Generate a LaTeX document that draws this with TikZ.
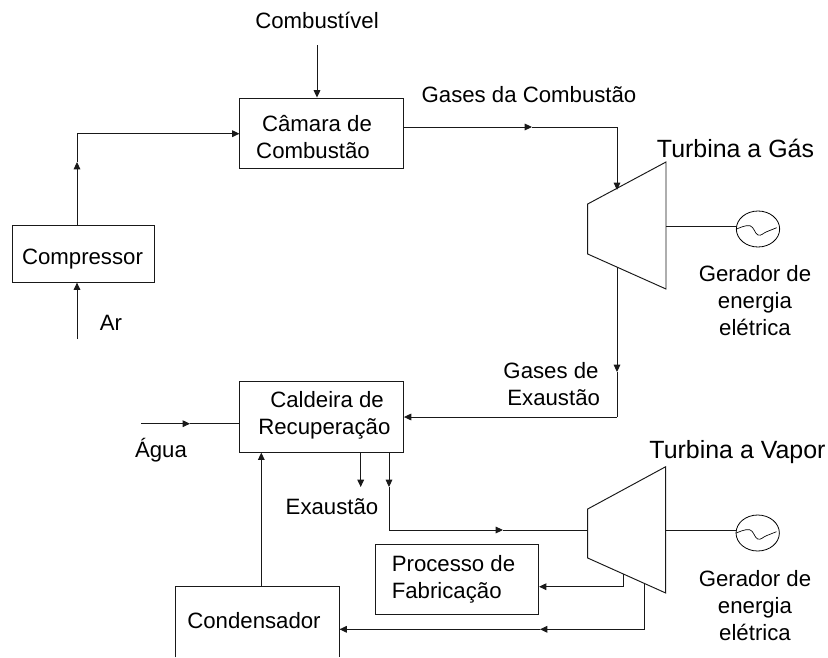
\documentclass[tikz,border=0pt]{standalone}
\usepackage{fontspec}
\setmainfont{Liberation Sans}
\usetikzlibrary{arrows.meta,shapes.geometric}
\tikzset{
  base/.style={line width=0.72pt,draw=black!90},
  arr/.style={base,-{Triangle[length=5.5pt,width=5pt]}},
  boxn/.style={base,rectangle,inner sep=0pt},
  lab/.style={inner sep=0pt,align=center,font=\fontsize{16.65}{20.2}\selectfont},
  lableft/.style={lab,align=left},
  big/.style={inner sep=0pt,font=\fontsize{18.7}{22}\selectfont},
  gen/.style={draw=black,ellipse,minimum width=32.5pt,minimum height=27pt,inner sep=0pt,line width=0.6pt},
}
\begin{document}
\begin{tikzpicture}[x=0.75pt,y=-0.75pt]
\useasboundingbox (0,0) rectangle (828,657);
% boxes
\node[boxn,minimum width=106.9pt,minimum height=42.2pt] (comp) at (83.7,254) {};
\node[boxn,minimum width=122.6pt,minimum height=53.2pt] (cam) at (321.7,133.5) {};
\node[boxn,minimum width=122.6pt,minimum height=52.7pt] (cal) at (321.7,417) {};
\node[boxn,minimum width=122.6pt,minimum height=53.2pt] (proc) at (456.8,579.5) {};
\node[boxn,draw=none,minimum width=122.6pt,minimum height=52.7pt] (cond) at (257.3,621.85) {};
\draw[base] (cond.south west) -- (cond.north west) -- (cond.north east) -- (cond.south east);
% box texts
\node[lab] (compt) at (82.5,259) {Compressor};
\node[lab] (camt) at (315,137) {\hspace*{3pt}Câmara de\\Combustão\hspace*{3pt}};
\node[lab] (calt) at (325.7,415.5) {\hspace*{2pt}Caldeira de\\Recuperação\hspace*{2pt}};
\node[lableft] (proct) at (453.5,579) {Processo de\\Fabricação};
\node[lab] (condt) at (254,620.3) {Condensador};
% turbines
\coordinate (g1) at (587.7,204); \coordinate (g2) at (666,162);
\coordinate (g3) at (666,289); \coordinate (g4) at (587.7,254);
\draw[base] (g1) -- (g2) -- (g3) -- (g4) -- cycle;
\coordinate (v1) at (587.7,509); \coordinate (v2) at (665.7,466.7);
\coordinate (v3) at (665.7,593); \coordinate (v4) at (587.7,558);
\draw[base] (v1) -- (v2) -- (v3) -- (v4) -- cycle;
% generators
\node[gen] (gen1) at (758,229) {};
\node[gen] (gen2) at (757.7,533) {};
\foreach \g in {gen1,gen2}{
  \begin{scope}[shift={(\g.center)}]
  \draw[line width=0.5pt] plot[smooth,tension=0.7] coordinates {(-21.3,0) (-8,-3.3) (0,6) (8.7,2.7) (18.7,-1.3)};
  \end{scope}
}
% free ends
\coordinate (airin) at (77,339);
\coordinate (airmid) at (77,162);
\coordinate (aircorner) at (77,133.7);
\coordinate (airmid2) at (200,133.7);
\coordinate (fuel) at (317,45);
\coordinate (gasstart) at (403,127);
\coordinate (gasmid) at (532,127);
\coordinate (gascorner) at (617,127);
\coordinate (gasin) at (617,190);
\coordinate (exout) at (617,267);
\coordinate (exmid) at (617,372);
\coordinate (excorner) at (617,417);
\coordinate (water) at (141,423.7);
\coordinate (watermid) at (190,423.7);
\coordinate (cndup) at (261.3,500);
\coordinate (stmcorner) at (389,530);
\coordinate (stmmid1) at (389,487);
\coordinate (stmmid2) at (503,530);
\coordinate (exh) at (360.7,487);
\coordinate (x1) at (623.3,573.5);
\coordinate (x1c) at (623.3,586.7);
\coordinate (x2) at (644.3,583);
\coordinate (x2c) at (644.3,629.3);
\coordinate (x2m) at (540,629.3);
% connectors
\draw[arr] (airin) -- (comp.south -| airin);
\draw[arr] (comp.north -| airin) -- (airmid);
\draw[base] (airmid) -- (aircorner) -- (airmid2);
\draw[arr] (airmid2) -- (cam.west |- airmid2);
\draw[arr] (fuel) -- (cam.north -| fuel);
\draw[arr] (cam.east |- gasstart) -- (gasmid);
\draw[base] (gasmid) -- (gascorner);
\draw[arr] (gascorner) -- (gasin);
\draw[arr] (exout) -- (exmid);
\draw[base] (exmid) -- (excorner);
\draw[arr] (excorner) -- (cal.east |- excorner);
\draw[arr] (water) -- (watermid);
\draw[base] (watermid) -- (cal.west |- watermid);
\draw[arr] (cond.north -| cndup) -- (cal.south -| cndup);
\draw[arr] (cal.south -| exh) -- (exh);
\draw[arr] (cal.south -| stmcorner) -- (stmmid1);
\draw[base] (stmmid1) -- (stmcorner);
\draw[arr] (stmcorner) -- (stmmid2);
\draw[base] (stmmid2) -- (v1 |- stmmid2);
\draw[base] (g2 |- gen1.west) ++(0,-3) -- ++(71,0);
\draw[base] (v2 |- gen2.west) ++(0,-3) -- ++(71,0);
\draw[arr] (x1) -- (x1c) -- (proc.east |- x1c);
\draw[arr] (x2) -- (x2c) -- (x2m);
\draw[arr] (x2m) -- (cond.east |- x2m);
% labels
\node[lab] (tcomb) at (317,20) {Combustível};
\node[lab] (tgc) at (529,95) {Gases da Combustão};
\node[lab] (tar) at (111,323) {Ar};
\node[lab] (tge) at (551,384) {Gases de\\\hspace*{4pt}Exaustão};
\node[lab] (tag) at (161,450.5) {Água};
\node[lab] (tex) at (332,507) {Exaustão};
\node[big] (ttg) at (735.5,148) {Turbina a Gás};
\node[big] (ttv) at (737.5,452) {Turbina a Vapor};
\node[lab] (gg1) at (755,300.5) {Gerador de\\energia\\elétrica};
\node[lab] (gg2) at (755,605.5) {Gerador de\\energia\\elétrica};
\end{tikzpicture}
\end{document}
